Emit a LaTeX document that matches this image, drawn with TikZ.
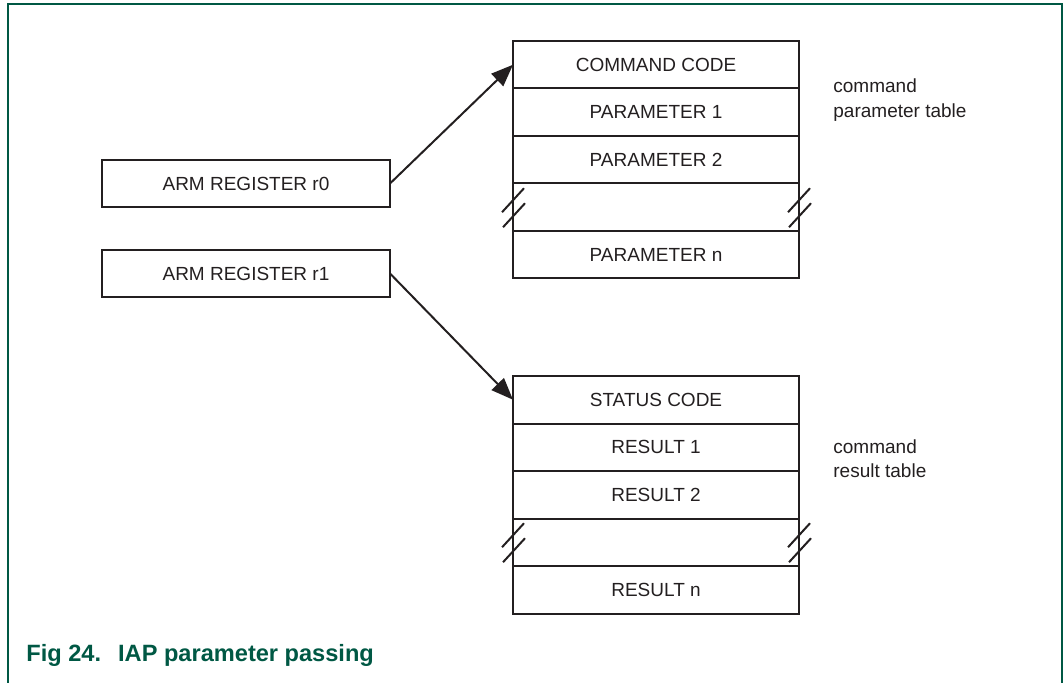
\documentclass[tikz,border=0pt]{standalone}
\usepackage{fontspec}
\setmainfont{Liberation Sans}
\usepackage{xcolor}
\usetikzlibrary{positioning,calc,arrows.meta}
\definecolor{nxpgreen}{RGB}{0,88,68}
\definecolor{ink}{RGB}{35,31,32}
\tikzset{
	cell/.style={draw=ink,line width=1pt,minimum width=143pt,minimum height=23.75pt,
		inner sep=0pt,outer sep=0pt,font=\fontsize{9.5}{11.5}\selectfont,text=ink},
	reg/.style={cell,minimum width=144pt,minimum height=23.5pt},
	note/.style={anchor=west,align=left,inner sep=0pt,font=\fontsize{9.5}{12.2}\selectfont,text=ink},
	ptr/.style={draw=ink,line width=1pt,-{Triangle[length=11pt,width=8.5pt]}},
	brk/.style={draw=ink,line width=1pt}
}
\begin{document}
\begin{tikzpicture}[x=0.5pt,y=-0.5pt]
	\useasboundingbox (0,0) rectangle (1063,683);
	\draw[nxpgreen,line width=1pt] (8,683)--(8,4.5)--(1062,4.5)--(1062,683);
	
	% parameter table
	\node[cell] (cmd) at (656,64.75) {COMMAND CODE};
	\node[cell,below=0pt of cmd] (par1) {PARAMETER 1};
	\node[cell,below=0pt of par1] (par2) {PARAMETER 2};
	\node[cell,below=0pt of par2] (gap1) {};
	\node[cell,below=0pt of gap1] (parn) {PARAMETER n};
	
	% result table
	\node[cell] (stat) at (656,399.75) {STATUS CODE};
	\node[cell,below=0pt of stat] (res1) {RESULT 1};
	\node[cell,below=0pt of res1] (res2) {RESULT 2};
	\node[cell,below=0pt of res2] (gap2) {};
	\node[cell,below=0pt of gap2] (resn) {RESULT n};
	
	% registers
	\node[reg] (r0) at (246,183.5) {ARM REGISTER r0};
	\node[reg] (r1) at (246,273.5) {ARM REGISTER r1};
	
	\node[note] (cmdnote) at (833,100) {command\\parameter table};
	\node[note] (resnote) at (833,459) {command\\result table};
	
	\draw[ptr] (r0.east) -- (cmd.west);
	\draw[ptr] (r1.east) -- (stat.west);
	
	% break marks
	\foreach \g in {gap1,gap2}
		\foreach \a in {west,east}{
			\draw[brk] ($(\g.\a)+(-11,5)$) -- ++(22,-24);
			\draw[brk] ($(\g.\a)+(-10,20)$) -- ++(22,-24);
		}
	
	\node[anchor=base west,inner sep=0pt,text=nxpgreen,font=\fontsize{11.8}{14}\selectfont\bfseries]
		(caption) at (26,661) {Fig 24.\hspace{8.5pt}IAP parameter passing};
\end{tikzpicture}
\end{document}
